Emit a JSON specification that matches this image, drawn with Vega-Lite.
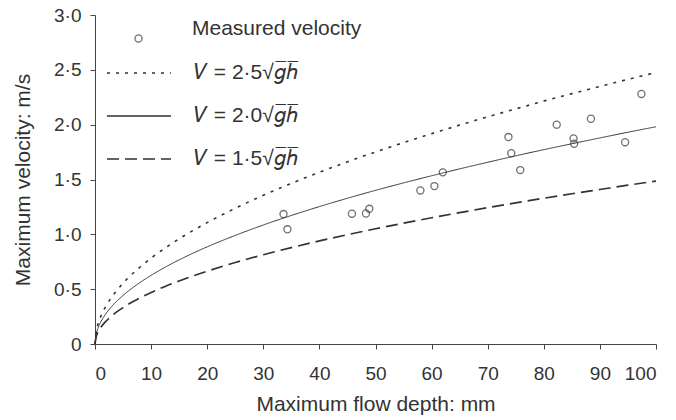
{
  "$schema": "https://vega.github.io/schema/vega-lite/v6.json",
  "width": 561,
  "height": 329,
  "autosize": {"type": "none"},
  "padding": {"left": 95, "top": 15, "right": 20, "bottom": 76},
  "background": "white",
  "config": {
    "font": "Liberation Sans",
    "view": {"stroke": null},
    "axis": {
      "grid": false,
      "domainColor": "#444",
      "tickColor": "#444",
      "tickSize": 5,
      "labelFont": "Liberation Sans",
      "labelFontSize": 19,
      "labelColor": "#333",
      "titleFont": "Liberation Sans",
      "titleFontSize": 21,
      "titleFontWeight": "normal",
      "titleColor": "#333"
    },
    "legend": {
      "orient": "none",
      "padding": 0,
      "labelFont": "Liberation Sans",
      "labelFontSize": 21,
      "labelColor": "#333",
      "labelLimit": 400
    }
  },
  "datasets": {
    "measured": [
      {"depth": 33.6, "velocity": 1.185},
      {"depth": 34.3, "velocity": 1.046},
      {"depth": 45.8, "velocity": 1.188},
      {"depth": 48.3, "velocity": 1.19},
      {"depth": 48.9, "velocity": 1.233},
      {"depth": 58.0, "velocity": 1.40},
      {"depth": 60.5, "velocity": 1.44},
      {"depth": 62.0, "velocity": 1.565},
      {"depth": 73.7, "velocity": 1.887},
      {"depth": 74.2, "velocity": 1.74},
      {"depth": 75.8, "velocity": 1.586},
      {"depth": 82.3, "velocity": 2.0},
      {"depth": 85.3, "velocity": 1.875},
      {"depth": 85.4, "velocity": 1.826},
      {"depth": 88.4, "velocity": 2.054},
      {"depth": 94.5, "velocity": 1.84},
      {"depth": 97.4, "velocity": 2.28}
    ],
    "curves": [
      {"depth": 0, "velocity": 0, "k": "2·5"},
      {"depth": 0.25, "velocity": 0.124, "k": "2·5"},
      {"depth": 0.5, "velocity": 0.175, "k": "2·5"},
      {"depth": 1, "velocity": 0.248, "k": "2·5"},
      {"depth": 2, "velocity": 0.350, "k": "2·5"},
      {"depth": 3, "velocity": 0.429, "k": "2·5"},
      {"depth": 4, "velocity": 0.495, "k": "2·5"},
      {"depth": 5, "velocity": 0.554, "k": "2·5"},
      {"depth": 6, "velocity": 0.607, "k": "2·5"},
      {"depth": 8, "velocity": 0.700, "k": "2·5"},
      {"depth": 10, "velocity": 0.783, "k": "2·5"},
      {"depth": 12.5, "velocity": 0.875, "k": "2·5"},
      {"depth": 15, "velocity": 0.959, "k": "2·5"},
      {"depth": 20, "velocity": 1.107, "k": "2·5"},
      {"depth": 25, "velocity": 1.238, "k": "2·5"},
      {"depth": 30, "velocity": 1.356, "k": "2·5"},
      {"depth": 35, "velocity": 1.465, "k": "2·5"},
      {"depth": 40, "velocity": 1.566, "k": "2·5"},
      {"depth": 45, "velocity": 1.661, "k": "2·5"},
      {"depth": 50, "velocity": 1.751, "k": "2·5"},
      {"depth": 55, "velocity": 1.836, "k": "2·5"},
      {"depth": 60, "velocity": 1.918, "k": "2·5"},
      {"depth": 65, "velocity": 1.996, "k": "2·5"},
      {"depth": 70, "velocity": 2.072, "k": "2·5"},
      {"depth": 75, "velocity": 2.144, "k": "2·5"},
      {"depth": 80, "velocity": 2.215, "k": "2·5"},
      {"depth": 85, "velocity": 2.283, "k": "2·5"},
      {"depth": 90, "velocity": 2.349, "k": "2·5"},
      {"depth": 95, "velocity": 2.413, "k": "2·5"},
      {"depth": 100, "velocity": 2.476, "k": "2·5"},
      {"depth": 0, "velocity": 0, "k": "2·0"},
      {"depth": 0.25, "velocity": 0.099, "k": "2·0"},
      {"depth": 0.5, "velocity": 0.140, "k": "2·0"},
      {"depth": 1, "velocity": 0.198, "k": "2·0"},
      {"depth": 2, "velocity": 0.280, "k": "2·0"},
      {"depth": 3, "velocity": 0.343, "k": "2·0"},
      {"depth": 4, "velocity": 0.396, "k": "2·0"},
      {"depth": 5, "velocity": 0.443, "k": "2·0"},
      {"depth": 6, "velocity": 0.485, "k": "2·0"},
      {"depth": 8, "velocity": 0.560, "k": "2·0"},
      {"depth": 10, "velocity": 0.626, "k": "2·0"},
      {"depth": 12.5, "velocity": 0.700, "k": "2·0"},
      {"depth": 15, "velocity": 0.767, "k": "2·0"},
      {"depth": 20, "velocity": 0.886, "k": "2·0"},
      {"depth": 25, "velocity": 0.990, "k": "2·0"},
      {"depth": 30, "velocity": 1.085, "k": "2·0"},
      {"depth": 35, "velocity": 1.172, "k": "2·0"},
      {"depth": 40, "velocity": 1.253, "k": "2·0"},
      {"depth": 45, "velocity": 1.329, "k": "2·0"},
      {"depth": 50, "velocity": 1.401, "k": "2·0"},
      {"depth": 55, "velocity": 1.469, "k": "2·0"},
      {"depth": 60, "velocity": 1.534, "k": "2·0"},
      {"depth": 65, "velocity": 1.597, "k": "2·0"},
      {"depth": 70, "velocity": 1.657, "k": "2·0"},
      {"depth": 75, "velocity": 1.716, "k": "2·0"},
      {"depth": 80, "velocity": 1.772, "k": "2·0"},
      {"depth": 85, "velocity": 1.826, "k": "2·0"},
      {"depth": 90, "velocity": 1.879, "k": "2·0"},
      {"depth": 95, "velocity": 1.931, "k": "2·0"},
      {"depth": 100, "velocity": 1.981, "k": "2·0"},
      {"depth": 0, "velocity": 0, "k": "1·5"},
      {"depth": 0.25, "velocity": 0.074, "k": "1·5"},
      {"depth": 0.5, "velocity": 0.105, "k": "1·5"},
      {"depth": 1, "velocity": 0.149, "k": "1·5"},
      {"depth": 2, "velocity": 0.210, "k": "1·5"},
      {"depth": 3, "velocity": 0.257, "k": "1·5"},
      {"depth": 4, "velocity": 0.297, "k": "1·5"},
      {"depth": 5, "velocity": 0.332, "k": "1·5"},
      {"depth": 6, "velocity": 0.364, "k": "1·5"},
      {"depth": 8, "velocity": 0.420, "k": "1·5"},
      {"depth": 10, "velocity": 0.470, "k": "1·5"},
      {"depth": 12.5, "velocity": 0.525, "k": "1·5"},
      {"depth": 15, "velocity": 0.575, "k": "1·5"},
      {"depth": 20, "velocity": 0.664, "k": "1·5"},
      {"depth": 25, "velocity": 0.743, "k": "1·5"},
      {"depth": 30, "velocity": 0.814, "k": "1·5"},
      {"depth": 35, "velocity": 0.879, "k": "1·5"},
      {"depth": 40, "velocity": 0.940, "k": "1·5"},
      {"depth": 45, "velocity": 0.997, "k": "1·5"},
      {"depth": 50, "velocity": 1.051, "k": "1·5"},
      {"depth": 55, "velocity": 1.102, "k": "1·5"},
      {"depth": 60, "velocity": 1.151, "k": "1·5"},
      {"depth": 65, "velocity": 1.198, "k": "1·5"},
      {"depth": 70, "velocity": 1.243, "k": "1·5"},
      {"depth": 75, "velocity": 1.287, "k": "1·5"},
      {"depth": 80, "velocity": 1.329, "k": "1·5"},
      {"depth": 85, "velocity": 1.370, "k": "1·5"},
      {"depth": 90, "velocity": 1.409, "k": "1·5"},
      {"depth": 95, "velocity": 1.448, "k": "1·5"},
      {"depth": 100, "velocity": 1.486, "k": "1·5"}
    ]
  },
  "encoding": {
    "x": {
      "field": "depth",
      "type": "quantitative",
      "scale": {"domain": [0, 100], "nice": false},
      "axis": {
        "title": "Maximum flow depth: mm",
        "values": [0, 10, 20, 30, 40, 50, 60, 70, 80, 90, 100],
        "labelPadding": 15,
        "titlePadding": 10
      }
    },
    "y": {
      "field": "velocity",
      "type": "quantitative",
      "scale": {"domain": [0, 3], "nice": false},
      "axis": {
        "title": "Maximum velocity: m/s",
        "values": [0, 0.5, 1, 1.5, 2, 2.5, 3],
        "labelExpr": "datum.value == 0 ? '0' : replace(format(datum.value, '.1f'), '.', '·')",
        "labelPadding": 9,
        "titlePadding": 20
      }
    }
  },
  "layer": [
    {
      "data": {"name": "curves"},
      "transform": [{"filter": "datum.k == '2·5'"}],
      "mark": {"type": "line", "color": "#333", "strokeWidth": 1.6, "interpolate": "monotone"},
      "encoding": {
        "strokeDash": {
          "field": "k",
          "type": "nominal",
          "scale": {
            "domain": ["2·5", "2·0", "1·5"],
            "range": [[3, 6], [1, 0], [12, 6]]
          },
          "legend": {
            "title": null,
            "legendX": 11,
            "legendY": 25,
            "symbolType": "stroke",
            "symbolSize": 4096,
            "symbolStrokeColor": "#333",
            "symbolStrokeWidth": 1.6,
            "labelOffset": 22,
            "rowPadding": 0,
            "labelExpr": "'𝑉 = ' + datum.label + '√𝑔̅ℎ̅'"
          }
        }
      }
    },
    {
      "data": {"name": "curves"},
      "transform": [{"filter": "datum.k == '2·0'"}],
      "mark": {"type": "line", "color": "#333", "strokeWidth": 1, "interpolate": "monotone"},
      "encoding": {
        "strokeDash": {"field": "k", "type": "nominal"}
      }
    },
    {
      "data": {"name": "curves"},
      "transform": [{"filter": "datum.k == '1·5'"}],
      "mark": {"type": "line", "color": "#333", "strokeWidth": 1.7, "interpolate": "monotone"},
      "encoding": {
        "strokeDash": {"field": "k", "type": "nominal"}
      }
    },
    {
      "data": {"name": "measured"},
      "mark": {"type": "point", "shape": "circle", "filled": false, "color": "#333", "size": 50, "strokeWidth": 1.3},
      "encoding": {
        "shape": {
          "datum": "Measured velocity",
          "type": "nominal",
          "scale": {"range": ["circle"]},
          "legend": {
            "title": null,
            "legendX": 33,
            "legendY": 13,
            "symbolSize": 50,
            "symbolStrokeWidth": 1.3,
            "symbolStrokeColor": "#333",
            "labelOffset": 43,
            "labelBaseline": "bottom"
          }
        }
      }
    }
  ]
}
